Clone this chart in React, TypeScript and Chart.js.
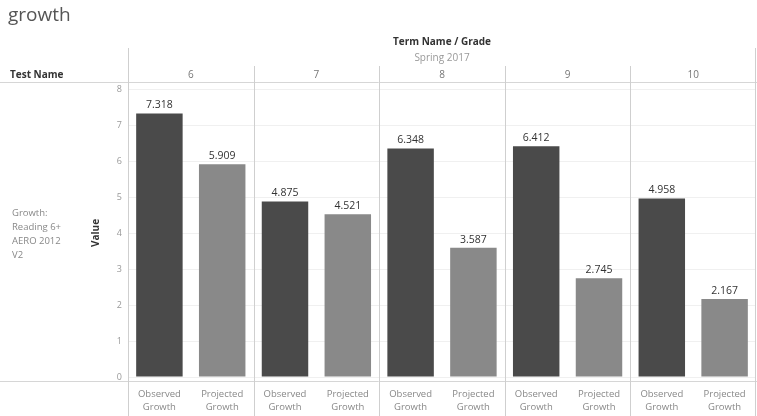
import React, { useEffect, useRef } from "react";
import { Chart, registerables } from "chart.js";

Chart.register(...registerables);

const grades = ["6", "7", "8", "9", "10"];
const measureNames = [["Observed", "Growth"], ["Projected", "Growth"]];
const observed = [7.318, 4.875, 6.348, 6.412, 4.958];
const projected = [5.909, 4.521, 3.587, 2.745, 2.167];
const yTicks = [0, 1, 2, 3, 4, 5, 6, 7, 8];
const testName = ["Growth:", "Reading 6+", "AERO 2012", "V2"];

const FONT = "'Open Sans', 'Noto Sans', sans-serif";
const DARK = "#4a4a4a";
const LIGHT = "#898989";

export default function App() {
  const ref = useRef<HTMLCanvasElement | null>(null);

  useEffect(() => {
    document.body.style.margin = "0";
    const labels: string[][] = [];
    const values: number[] = [];
    const colors: string[] = [];
    grades.forEach((g, i) => {
      labels.push(measureNames[0]);
      values.push(observed[i]);
      colors.push(DARK);
      labels.push(measureNames[1]);
      values.push(projected[i]);
      colors.push(LIGHT);
    });

    const overlay = {
      id: "overlay",
      afterDatasetsDraw(chart: any) {
        const ctx = chart.ctx;
        const meta = chart.getDatasetMeta(0);
        ctx.save();
        ctx.font = `10.5px ${FONT}`;
        ctx.fillStyle = "#333";
        ctx.textAlign = "center";
        ctx.textBaseline = "bottom";
        meta.data.forEach((bar: any, i: number) => {
          ctx.fillText(values[i].toFixed(3), bar.x, bar.y - 3);
        });
        ctx.restore();
      },
      afterDraw(chart: any) {
        const ctx = chart.ctx;
        const xs = chart.scales.x;
        const area = chart.chartArea;
        const W = chart.width;
        const H = chart.height;
        ctx.save();
        ctx.strokeStyle = "#d6d6d6";
        ctx.lineWidth = 1;
        ctx.beginPath();
        ctx.moveTo(0, 82.5);
        ctx.lineTo(W, 82.5);
        ctx.moveTo(0, 381.5);
        ctx.lineTo(W, 381.5);
        ctx.stroke();
        ctx.strokeStyle = "#cfcfcf";
        for (let p = 0; p <= grades.length; p++) {
          let x: number;
          if (p === 0) x = area.left;
          else if (p === grades.length) x = area.right - 1;
          else x = (xs.getPixelForValue(2 * p - 1) + xs.getPixelForValue(2 * p)) / 2;
          x = Math.round(x) + 0.5;
          const top = p === 0 || p === grades.length ? 48 : 66;
          ctx.beginPath();
          ctx.moveTo(x, top);
          ctx.lineTo(x, H);
          ctx.stroke();
        }
        ctx.font = `10px ${FONT}`;
        ctx.fillStyle = "#777";
        ctx.textAlign = "center";
        ctx.textBaseline = "middle";
        grades.forEach((g, i) => {
          const cx = (xs.getPixelForValue(2 * i) + xs.getPixelForValue(2 * i + 1)) / 2;
          ctx.fillText(g, cx, 75);
        });
        const mid = (area.left + area.right) / 2;
        ctx.font = `bold 10px ${FONT}`;
        ctx.fillStyle = "#333";
        ctx.fillText("Term Name / Grade", mid, 42);
        ctx.font = `10px ${FONT}`;
        ctx.fillStyle = "#999";
        ctx.fillText("Spring 2017", mid, 58);
        ctx.textAlign = "left";
        ctx.font = `bold 10px ${FONT}`;
        ctx.fillStyle = "#333";
        ctx.fillText("Test Name", 10, 75);
        ctx.font = `9.5px ${FONT}`;
        ctx.fillStyle = "#888";
        testName.forEach((t, i) => ctx.fillText(t, 12, 213 + i * 14));
        ctx.font = `19px ${FONT}`;
        ctx.fillStyle = "#555";
        ctx.fillText("growth", 8, 16);
        ctx.restore();
      },
    };

    const chart = new Chart(ref.current as HTMLCanvasElement, {
      type: "bar",
      data: {
        labels,
        datasets: [
          {
            data: values,
            backgroundColor: colors,
            categoryPercentage: 1,
            barPercentage: 0.74,
          },
        ],
      },
      options: {
        responsive: false,
        animation: false,
        layout: { padding: { left: 88, right: 1, top: 89, bottom: 0 } },
        plugins: { legend: { display: false }, tooltip: { enabled: false } },
        scales: {
          x: {
            grid: { display: false, drawTicks: false },
            border: { display: false },
            ticks: {
              color: "#888",
              font: { family: FONT, size: 9.5, lineHeight: 1.45 },
              padding: 10,
              maxRotation: 0,
              autoSkip: false,
            },
            afterFit(scale: any) {
              scale.height = 39;
            },
          },
          y: {
            min: 0,
            max: 8,
            afterBuildTicks(scale: any) {
              scale.ticks = yTicks.map((v) => ({ value: v }));
            },
            grid: { color: "#f0f0f0", drawTicks: false },
            border: { display: false },
            ticks: {
              color: "#999",
              font: { family: FONT, size: 9 },
              padding: 6,
            },
            title: {
              display: true,
              text: "Value",
              color: "#333",
              font: { family: FONT, size: 10, weight: "bold" },
              padding: { top: 2, bottom: 0 },
            },
            afterFit(scale: any) {
              scale.width = 40;
            },
          },
        },
      },
      plugins: [overlay],
    } as any);
    return () => chart.destroy();
  }, []);

  return <canvas ref={ref} width={757} height={416} style={{ display: "block" }} />;
}
